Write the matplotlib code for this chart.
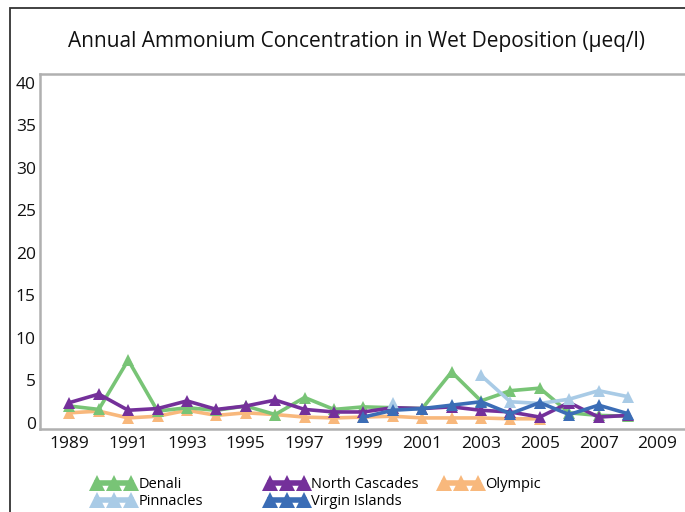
import numpy as np
import matplotlib
matplotlib.use("Agg")
import matplotlib.pyplot as plt
from matplotlib.patches import Rectangle
from matplotlib.lines import Line2D

plt.rcParams['font.family'] = ['Open Sans', 'DejaVu Sans']

years = list(range(1989, 2009))
nan = np.nan

denali = [2.0, 1.6, 7.4, 1.4, 1.8, 1.5, 2.0, 1.0, 3.0, 1.6, 1.9, 1.8,
          1.7, 6.0, 2.6, 3.8, 4.1, 1.2, 0.9, 0.8]
north_cascades = [2.4, 3.4, 1.5, 1.7, 2.6, 1.6, 2.0, 2.7, 1.6, 1.3, 1.3, 1.8,
                  1.7, 1.9, 1.5, 1.3, 0.7, 2.4, 0.7, 0.9]
olympic = [1.2, 1.4, 0.6, 0.8, 1.5, 0.9, 1.2, 1.0, 0.7, 0.6, 0.7, 0.8,
           0.6, 0.6, 0.6, 0.5, 0.5, nan, nan, nan]
pinnacles = [nan] * 11 + [2.3, nan, nan, 5.6, 2.5, 2.3, 2.8, 3.8, 3.1]
virgin_islands = [nan] * 10 + [0.7, 1.5, 1.7, 2.1, 2.5, 1.1, 2.4, 1.0, 2.1, 1.1]

xticks = list(range(1989, 2010, 2))
yticks = list(range(0, 41, 5))

series = [
    ("Olympic", olympic, "#f8b87c", 2),
    ("Denali", denali, "#78c476", 3),
    ("North Cascades", north_cascades, "#74309a", 4),
    ("Pinnacles", pinnacles, "#a9cbe6", 5),
    ("Virgin Islands", virgin_islands, "#3b6db6", 6),
]

W, H = 685, 512
fig = plt.figure(figsize=(W / 100, H / 100), dpi=100)

# outer frame
fig.patches.append(Rectangle((10 / W, -0.1), 1.2, 1 - 8 / H + 0.1,
                             transform=fig.transFigure, fill=False,
                             edgecolor="#333333", linewidth=1.3))

# plot area runs past the right edge of the canvas
ax = fig.add_axes([40 / W, 1 - 429 / H, (700 - 40) / W, (429 - 74) / H])

colors = {}
for name, vals, color, z in series:
    ax.plot(years, vals, color=color, lw=2.6, marker="^",
            markersize=9, markeredgewidth=0, zorder=z, clip_on=False)
    colors[name] = color

ax.set_xlim(1988, 2010.45)
ax.set_ylim(-0.7, 41)
ax.set_xticks(xticks)
ax.set_yticks(yticks)
ax.tick_params(length=0, labelsize=12.5, colors="#111111", pad=5)
ax.tick_params(axis="y", pad=3)
for s in ["left", "top", "bottom"]:
    ax.spines[s].set_color("#b0b0b0")
    ax.spines[s].set_linewidth(1.8)
ax.spines["right"].set_visible(False)

fig.text(356 / W, 1 - 42 / H,
         "Annual Ammonium Concentration in Wet Deposition (\u00b5eq/l)",
         ha="center", va="center", fontsize=15, color="#111111")


def make_handle(color):
    return Line2D([0], [0], color=color, lw=4, marker="^", markersize=11,
                  markeredgewidth=0)


columns = [
    (93, ["Denali", "Pinnacles"]),
    (266, ["North Cascades", "Virgin Islands"]),
    (440, ["Olympic"]),
]
for x0, names in columns:
    fig.legend([make_handle(colors[n]) for n in names], names,
               loc="upper left", bbox_to_anchor=(x0 / W, 1 - 477 / H),
               frameon=False, fontsize=10.5, numpoints=3,
               handlelength=2.9, handletextpad=0.2, labelspacing=0.12,
               borderpad=0, borderaxespad=0)

fig.savefig("out.png", dpi=100)
